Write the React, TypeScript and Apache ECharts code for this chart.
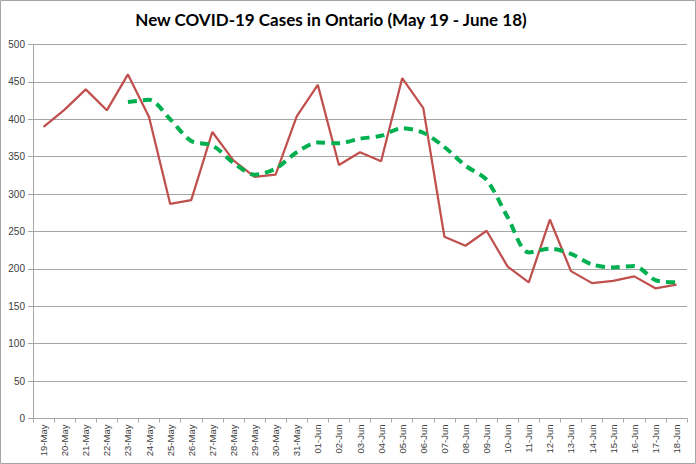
import React, { useEffect, useRef } from "react";
import * as echarts from "echarts";

const categories = [
  "19-May", "20-May", "21-May", "22-May", "23-May", "24-May", "25-May", "26-May",
  "27-May", "28-May", "29-May", "30-May", "31-May", "01-Jun", "02-Jun", "03-Jun",
  "04-Jun", "05-Jun", "06-Jun", "07-Jun", "08-Jun", "09-Jun", "10-Jun", "11-Jun",
  "12-Jun", "13-Jun", "14-Jun", "15-Jun", "16-Jun", "17-Jun", "18-Jun",
];

const dailyCases = [
  390, 413, 440, 412, 460, 403, 287, 292, 383, 345, 323, 326, 404, 446, 339, 356,
  344, 455, 415, 243, 231, 251, 203, 182, 266, 197, 181, 184, 190, 174, 179,
];

const movingAverage = [
  null, null, null, null, 423, 426, 400, 371, 365, 342, 326, 334, 356, 369, 368, 374,
  378, 388, 382, 363, 338, 319, 269, 222, 227, 220, 206, 202, 204, 185, 182,
];

const yTicks = { min: 0, max: 500, interval: 50 };

export default function App() {
  const ref = useRef<HTMLDivElement>(null);
  useEffect(() => {
    document.body.style.margin = "0";
    if (!ref.current) return;
    const chart = echarts.init(ref.current, null, { renderer: "svg" });
    const axisColor = "#404040";
    chart.setOption({
      animation: false,
      backgroundColor: "#ffffff",
      title: {
        text: "New COVID-19 Cases in Ontario (May 19 - June 18)",
        left: 326,
        top: 6,
        textAlign: "center",
        textStyle: {
          fontFamily: "Lato",
          fontWeight: "bold",
          fontSize: 17,
          color: "#000000",
        },
      },
      graphic: [
        {
          type: "rect",
          shape: { x: 0.5, y: 0.5, width: 695, height: 463 },
          style: { fill: "none", stroke: "#a6a6a6", lineWidth: 1 },
          silent: true,
        },
      ],
      grid: { left: 33, right: 9, top: 44.5, bottom: 45.5, containLabel: false },
      xAxis: {
        type: "category",
        data: categories,
        boundaryGap: true,
        axisLine: { show: true, lineStyle: { color: "#a6a6a6", width: 1 } },
        axisTick: { show: true, length: 4, lineStyle: { color: "#a6a6a6" } },
        axisLabel: {
          rotate: 90,
          interval: 0,
          margin: 6,
          fontSize: 9.5,
          fontFamily: "Liberation Sans",
          color: axisColor,
        },
        splitLine: { show: false },
      },
      yAxis: {
        type: "value",
        min: yTicks.min,
        max: yTicks.max,
        interval: yTicks.interval,
        axisLine: { show: true, lineStyle: { color: "#a6a6a6", width: 1 } },
        axisTick: { show: true, length: 5, lineStyle: { color: "#a6a6a6" } },
        axisLabel: {
          margin: 8,
          fontSize: 10,
          fontFamily: "Liberation Sans",
          color: axisColor,
        },
        splitLine: { show: true, lineStyle: { color: "#a6a6a6", width: 1 } },
      },
      series: [
        {
          name: "Daily new cases",
          type: "line",
          data: dailyCases,
          showSymbol: false,
          symbol: "none",
          lineStyle: { color: "#c0504d", width: 2.25 },
          z: 3,
        },
        {
          name: "5-day average",
          type: "line",
          data: movingAverage,
          showSymbol: false,
          symbol: "none",
          smooth: 0.3,
          lineStyle: { color: "#00b050", width: 4, type: [9, 6] },
          z: 4,
        },
      ],
    });
    return () => chart.dispose();
  }, []);
  return <div ref={ref} style={{ width: 696, height: 464 }} />;
}
